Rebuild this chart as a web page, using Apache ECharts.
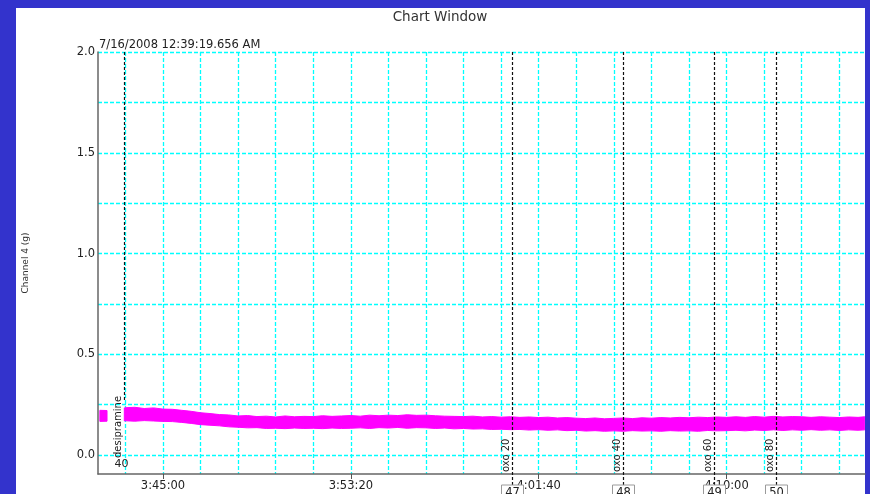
<!DOCTYPE html>
<html><head><meta charset="utf-8">
<script src="https://cdn.jsdelivr.net/npm/echarts@6/dist/echarts.min.js"></script>
<style>
html,body{margin:0;padding:0;width:870px;height:494px;background:#3333cc;overflow:hidden}
#panel{position:absolute;left:16px;top:8px;width:849px;height:486px;background:#fff}
#chart{position:absolute;left:0;top:0;width:870px;height:494px}
</style></head><body><div id="panel"></div><div id="chart"></div>
<script>
// ---- data (time in seconds of day) ----
const chartTitle = 'Chart Window';
const stampText = '7/16/2008 12:39:19.656 AM';
const yName = 'Channel 4 (g)';
const xMin = 13327, xMax = 15368.5;
const yMin = -0.094, yMax = 2.0;
const gridTimes = [13400,13500,13600,13700,13800,13900,14000,14100,14200,14300,14400,14500,14600,14700,14800,14900,15000,15100,15200,15300];
const labelTimes = [13500,14000,14500,15000];
const yGridValues = [0,0.25,0.5,0.75,1.0,1.25,1.5,1.75,2.0];
const yLabelValues = [0,0.5,1.0,1.5,2.0];

const bandTimes = [13332,13351,13370,13397,13400,13425,13450,13475,13500,13525,13550,13575,13600,13625,13650,13675,13700,13725,13750,13775,13800,13825,13850,13875,13900,13925,13950,13975,14000,14025,14050,14075,14100,14125,14150,14175,14200,14225,14250,14275,14300,14325,14350,14375,14400,14425,14450,14475,14500,14525,14550,14575,14600,14625,14650,14675,14700,14725,14750,14775,14800,14825,14850,14875,14900,14925,14950,14975,15000,15025,15050,15075,15100,15125,15150,15175,15200,15225,15250,15275,15300,15325,15350,15368];
const bandHigh = [.222,.221,null,.234,.235,.237,.231,.234,.228,.227,.222,.217,.210,.206,.201,.199,.194,.196,.191,.193,.189,.194,.190,.192,.191,.195,.192,.194,.196,.193,.198,.195,.198,.196,.200,.197,.198,.195,.193,.192,.191,.193,.189,.191,.188,.190,.187,.189,.186,.188,.184,.186,.183,.181,.184,.180,.182,.184,.181,.185,.183,.186,.184,.187,.185,.188,.186,.189,.187,.190,.187,.191,.188,.192,.189,.191,.190,.187,.190,.188,.186,.189,.187,.190];
const bandLow = [.167,.168,null,.169,.170,.168,.171,.169,.167,.166,.162,.157,.151,.148,.145,.140,.138,.135,.136,.132,.133,.131,.134,.132,.133,.131,.134,.132,.133,.135,.132,.136,.134,.137,.133,.136,.135,.132,.134,.130,.132,.129,.130,.127,.128,.126,.127,.124,.126,.123,.125,.121,.123,.119,.121,.118,.120,.118,.121,.119,.120,.118,.121,.119,.120,.118,.122,.120,.121,.123,.120,.124,.122,.125,.122,.125,.123,.126,.123,.125,.122,.125,.123,.125];

const eventTimes = [13396,14430,14724,14966,15132];
const eventNames = ['desipramine','oxo 20','oxo 40','oxo 60','oxo 80'];
const eventNums = ['40','47','48','49','50'];

const FONT = 'DejaVu Sans';
const GRID_CYAN = '#00ffff';
function fmtTime(v){
  const h = Math.floor(v/3600), m = Math.floor((v%3600)/60), s = Math.round(v%60);
  return h + ':' + String(m).padStart(2,'0') + ':' + String(s).padStart(2,'0');
}

function renderBand(params, api){
  if (params.dataIndex !== 0) return null;
  const children = [];
  let run = [];
  const flush = () => {
    if (run.length > 1) {
      const up = run.map(i => api.coord([bandTimes[i], bandHigh[i]]));
      const dn = run.slice().reverse().map(i => api.coord([bandTimes[i], bandLow[i]]));
      children.push({type:'polygon', shape:{points: up.concat(dn)},
        style:{fill:'#ff00ff', stroke:'#ff00ff', lineWidth:1}});
    }
    run = [];
  };
  for (let i = 0; i < bandTimes.length; i++) {
    if (bandHigh[i] == null || bandLow[i] == null) flush(); else run.push(i);
  }
  flush();
  return {type:'group', children};
}

function renderEvent(params, api){
  const i = params.dataIndex;
  const t = api.value(0);
  const top = api.coord([t, yMax]);
  const bot = api.coord([t, yMin]);
  const x = Math.round(top[0]) + 0.5;
  const inside = i === 0;
  const children = [];
  const lineEnd = inside ? bot[1] - 72 : bot[1] + 18;
  children.push({type:'line', shape:{x1:x, y1:top[1], x2:x, y2:lineEnd},
    style:{stroke:'#111', lineWidth:1.2, lineDash:[3,2]}});
  children.push({type:'text', x: x - 1.5, y: inside ? bot[1] - 16 : bot[1] - 2, rotation: Math.PI/2,
    style:{text: eventNames[i], fill:'#222', font: '10px "' + FONT + '"', align:'left', verticalAlign:'bottom'}});
  if (inside) {
    children.push({type:'text', x: x - 3, y: bot[1] - 10,
      style:{text: eventNums[i], fill:'#222', font:'11px "' + FONT + '"', align:'center', verticalAlign:'middle'}});
  } else {
    children.push({type:'rect', shape:{x: x - 11, y: bot[1] + 11, width: 22, height: 16},
      style:{fill:'#fff', stroke:'#9a9a9a', lineWidth:1}});
    children.push({type:'text', x: x, y: bot[1] + 13,
      style:{text: eventNums[i], fill:'#222', font:'11.5px "' + FONT + '"', align:'center', verticalAlign:'top'}});
  }
  return {type:'group', children};
}

const chart = echarts.init(document.getElementById('chart'), null, {renderer:'canvas'});
chart.setOption({
  animation: false,
  backgroundColor: 'transparent',
  title: [
    {text: chartTitle, left: 440, top: 10, textAlign: 'center', padding: 0,
     textStyle:{fontFamily: FONT, fontSize: 13.5, fontWeight:'normal', color:'#333'}},
    {text: stampText, left: 99, top: 39, padding: 0,
     textStyle:{fontFamily: FONT, fontSize: 11.5, fontWeight:'normal', color:'#222'}}
  ],
  grid: {left: 98, right: 5, top: 52, bottom: 20, containLabel: false},
  xAxis: [
    {type:'value', min:xMin, max:xMax, position:'bottom',
     axisLine:{show:true, onZero:false, lineStyle:{color:'#666', width:1.5}},
     axisTick:{show:false, customValues: gridTimes},
     axisLabel:{show:false},
     splitLine:{show:true, lineStyle:{color:GRID_CYAN, width:1.3, type:[4,2]}}},
    {type:'value', min:xMin, max:xMax, position:'bottom',
     axisLine:{show:false, onZero:false},
     axisTick:{show:true, customValues: labelTimes, length:5, lineStyle:{color:'#555'}},
     axisLabel:{show:true, customValues: labelTimes, margin:6, formatter: fmtTime,
       fontFamily: FONT, fontSize: 11.5, color:'#222'},
     splitLine:{show:false}}
  ],
  yAxis: {type:'value', min:yMin, max:yMax,
    name: yName, nameLocation:'middle', nameGap: 68, nameRotate: 90,
    nameTextStyle:{fontFamily: FONT, fontSize: 9, color:'#333'},
    axisLine:{show:true, onZero:false, lineStyle:{color:'#666', width:1.5}},
    axisTick:{show:false, customValues: yGridValues},
    axisLabel:{show:true, customValues: yLabelValues, margin:3, formatter: v => v.toFixed(1),
      fontFamily: FONT, fontSize: 11.5, color:'#222'},
    splitLine:{show:true, lineStyle:{color:GRID_CYAN, width:1.3, type:[4,2]}}},
  series: [
    {type:'custom', name:'band', clip:true, z:2,
     data: bandTimes.map((t,i) => [t, bandLow[i], bandHigh[i]]),
     encode:{x:0, y:[1,2]}, renderItem: renderBand, silent:true},
    {type:'custom', name:'events', clip:false, z:5,
     data: eventTimes.map((t,i) => [t, i]),
     encode:{x:0}, renderItem: renderEvent, silent:true}
  ]
});
</script></body></html>
